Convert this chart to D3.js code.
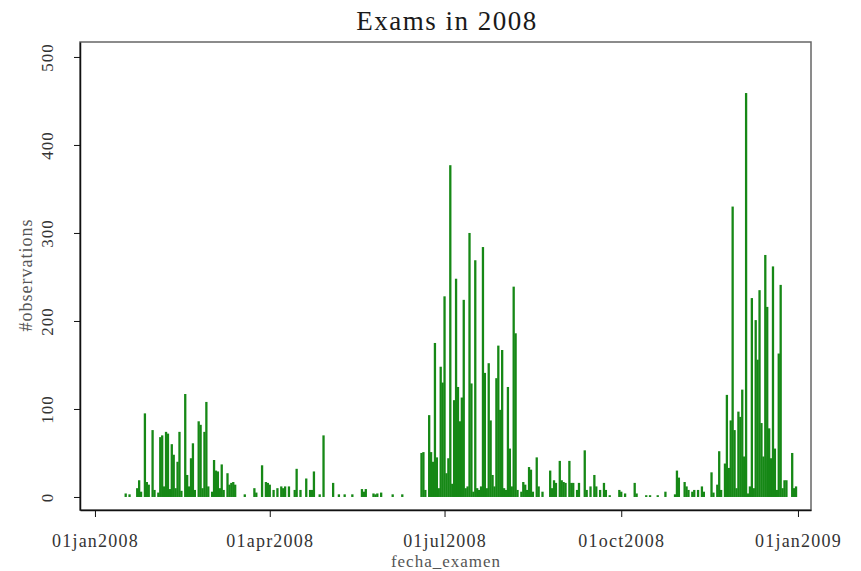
<!DOCTYPE html>
<html>
<head>
<meta charset="utf-8">
<script src="https://cdnjs.cloudflare.com/ajax/libs/d3/7.8.5/d3.min.js"></script>
<style>
  body { margin: 0; background: #fff; }
  svg text { font-family: "Liberation Serif", "DejaVu Serif", serif; }
</style>
</head>
<body>
<svg id="svg1" width="861" height="571"></svg>
<script>
// exam dates and number of observations per day
var dates = [
  "2008-01-17","2008-01-19","2008-01-23","2008-01-24","2008-01-25","2008-01-27","2008-01-28","2008-01-29","2008-01-31",
  "2008-02-01","2008-02-03","2008-02-04","2008-02-05","2008-02-06","2008-02-07","2008-02-08","2008-02-09","2008-02-10",
  "2008-02-11","2008-02-12","2008-02-13","2008-02-14","2008-02-15","2008-02-17","2008-02-18","2008-02-19","2008-02-20",
  "2008-02-21","2008-02-22","2008-02-24","2008-02-25","2008-02-26","2008-02-27","2008-02-28","2008-02-29",
  "2008-03-02","2008-03-03","2008-03-04","2008-03-05","2008-03-06","2008-03-07","2008-03-08","2008-03-10","2008-03-11",
  "2008-03-12","2008-03-13","2008-03-14","2008-03-19","2008-03-24","2008-03-25","2008-03-28","2008-03-30","2008-03-31",
  "2008-04-01","2008-04-03","2008-04-05","2008-04-07","2008-04-08","2008-04-09","2008-04-11","2008-04-14","2008-04-15",
  "2008-04-17","2008-04-20","2008-04-22","2008-04-23","2008-04-24","2008-04-27","2008-04-29",
  "2008-05-04","2008-05-07","2008-05-10","2008-05-14","2008-05-19","2008-05-20","2008-05-21","2008-05-25","2008-05-26",
  "2008-05-27","2008-05-29",
  "2008-06-04","2008-06-09","2008-06-19","2008-06-20","2008-06-21","2008-06-23","2008-06-24","2008-06-25","2008-06-26",
  "2008-06-27","2008-06-28","2008-06-29","2008-06-30",
  "2008-07-01","2008-07-02","2008-07-03","2008-07-04","2008-07-05","2008-07-06","2008-07-07","2008-07-08","2008-07-09",
  "2008-07-10","2008-07-11","2008-07-12","2008-07-13","2008-07-14","2008-07-15","2008-07-16","2008-07-17","2008-07-18",
  "2008-07-19","2008-07-20","2008-07-21","2008-07-22","2008-07-23","2008-07-24","2008-07-25","2008-07-26","2008-07-27",
  "2008-07-28","2008-07-29","2008-07-30","2008-07-31",
  "2008-08-01","2008-08-02","2008-08-03","2008-08-04","2008-08-05","2008-08-06","2008-08-07","2008-08-08","2008-08-10",
  "2008-08-11","2008-08-12","2008-08-13","2008-08-14","2008-08-15","2008-08-16","2008-08-18","2008-08-19","2008-08-21",
  "2008-08-25","2008-08-26","2008-08-27","2008-08-28","2008-08-30","2008-08-31",
  "2008-09-01","2008-09-02","2008-09-04","2008-09-05","2008-09-06","2008-09-08","2008-09-09","2008-09-12","2008-09-13",
  "2008-09-15","2008-09-17","2008-09-18","2008-09-20","2008-09-22","2008-09-23","2008-09-25","2008-09-30",
  "2008-10-01","2008-10-03","2008-10-08","2008-10-09","2008-10-14","2008-10-16","2008-10-20","2008-10-24","2008-10-29",
  "2008-10-30","2008-10-31",
  "2008-11-03","2008-11-04","2008-11-05","2008-11-07","2008-11-08","2008-11-10","2008-11-12","2008-11-13","2008-11-17",
  "2008-11-18","2008-11-20","2008-11-21","2008-11-22","2008-11-24","2008-11-25","2008-11-26","2008-11-27","2008-11-28",
  "2008-11-29","2008-11-30",
  "2008-12-01","2008-12-02","2008-12-03","2008-12-04","2008-12-05","2008-12-06","2008-12-07","2008-12-08","2008-12-09",
  "2008-12-10","2008-12-11","2008-12-12","2008-12-13","2008-12-14","2008-12-15","2008-12-16","2008-12-17","2008-12-18",
  "2008-12-19","2008-12-20","2008-12-21","2008-12-22","2008-12-23","2008-12-24","2008-12-25","2008-12-26","2008-12-29",
  "2008-12-30","2008-12-31"
];
var counts = [
  4,3,10,19,6,95,17,14,76,
  8,5,68,70,12,74,72,9,60,
  48,10,40,74,7,117,25,12,44,
  61,8,86,82,10,74,108,12,
  6,42,30,29,10,37,8,27,14,
  16,17,14,3,10,5,36,17,16,
  14,8,10,12,10,12,12,8,32,
  8,21,8,8,29,3,70,
  16,3,3,3,9,6,9,4,3,
  4,5,
  3,3,50,51,8,93,51,40,175,
  45,10,148,130,
  228,27,44,377,15,110,248,125,86,
  113,224,10,12,300,129,6,269,10,
  8,12,284,141,10,152,87,25,12,
  135,172,99,167,
  10,8,125,55,12,239,186,8,6,
  17,14,8,34,31,6,45,12,6,
  30,10,19,16,41,19,
  17,16,41,16,16,8,16,53,8,
  12,25,12,8,16,8,2,8,
  6,4,16,4,2,2,2,6,3,
  30,22,
  17,12,8,6,8,8,12,6,28,
  5,14,52,8,38,116,33,87,330,
  76,10,
  97,91,122,46,459,4,12,226,10,
  201,156,235,84,46,275,216,78,44,
  262,55,8,163,241,10,19,19,50,
  10,12
];
var xTickDates = ["2008-01-01", "2008-04-01", "2008-07-01", "2008-10-01", "2009-01-01"];
var xTickLabels = ["01jan2008", "01apr2008", "01jul2008", "01oct2008", "01jan2009"];
var yTicks = [0, 100, 200, 300, 400, 500];

var parse = d3.utcParse("%Y-%m-%d");
var data = dates.map(function(d, i) { return { date: parse(d), n: counts[i] }; });

var plotLeft = 80, plotRight = 811, plotTop = 42, plotBottom = 510;
var svg = d3.select("#svg1");

var x = d3.scaleUtc()
    .domain([d3.utcHour.offset(parse("2008-01-01"), -187), d3.utcHour.offset(parse("2009-01-01"), 163)])
    .range([plotLeft, plotRight]);
var y = d3.scaleLinear()
    .domain([-14.8, 517])
    .range([plotBottom, plotTop]);

// title
svg.append("text")
    .attr("x", 447).attr("y", 30)
    .attr("text-anchor", "middle")
    .attr("font-size", 27)
    .attr("letter-spacing", 1.5)
    .attr("fill", "#1a1a1a")
    .text("Exams in 2008");

// bars
var barW = 2.3;
svg.append("g")
    .selectAll("rect")
    .data(data)
    .enter().append("rect")
    .attr("x", function(d) { return x(d.date) - barW / 2; })
    .attr("width", barW)
    .attr("y", function(d) { return y(d.n); })
    .attr("height", function(d) { return y(0) - y(d.n); })
    .attr("fill", "#168816");

// plot region outline
svg.append("rect")
    .attr("x", plotLeft).attr("y", plotTop)
    .attr("width", plotRight - plotLeft).attr("height", plotBottom - plotTop)
    .attr("fill", "none")
    .attr("stroke", "#666")
    .attr("stroke-width", 1.5);

// y axis
var yAxis = svg.append("g")
    .attr("transform", "translate(" + plotLeft + ",0)")
    .call(d3.axisLeft(y).tickValues(yTicks).tickSize(6).tickSizeOuter(0).tickFormat(d3.format("d")));
yAxis.select(".domain").attr("stroke", "#111").attr("stroke-width", 1.5);
yAxis.selectAll(".tick line").attr("stroke", "#111");
yAxis.selectAll(".tick text")
    .attr("font-size", 17)
    .attr("letter-spacing", 1)
    .attr("fill", "#333")
    .attr("text-anchor", "middle")
    .attr("x", 0).attr("dy", 0)
    .attr("transform", "translate(-27,0) rotate(-90)");

// x axis
var xAxis = svg.append("g")
    .attr("transform", "translate(0," + plotBottom + ")")
    .call(d3.axisBottom(x)
        .tickValues(xTickDates.map(parse))
        .tickSize(7)
        .tickSizeOuter(0)
        .tickPadding(17)
        .tickFormat(function(d, i) { return xTickLabels[i]; }));
xAxis.select(".domain").attr("stroke", "#111").attr("stroke-width", 1.5);
xAxis.selectAll(".tick line").attr("stroke", "#111");
xAxis.selectAll(".tick text")
    .attr("font-size", 18)
    .attr("letter-spacing", 1.2)
    .attr("fill", "#333");

// axis titles
svg.append("text")
    .attr("transform", "translate(32,275) rotate(-90)")
    .attr("text-anchor", "middle")
    .attr("font-size", 18)
    .attr("letter-spacing", 1)
    .attr("fill", "#555")
    .text("#observations");

svg.append("text")
    .attr("x", 446).attr("y", 567)
    .attr("text-anchor", "middle")
    .attr("font-size", 17)
    .attr("letter-spacing", 1)
    .attr("fill", "#555")
    .text("fecha_examen");
</script>
</body>
</html>
